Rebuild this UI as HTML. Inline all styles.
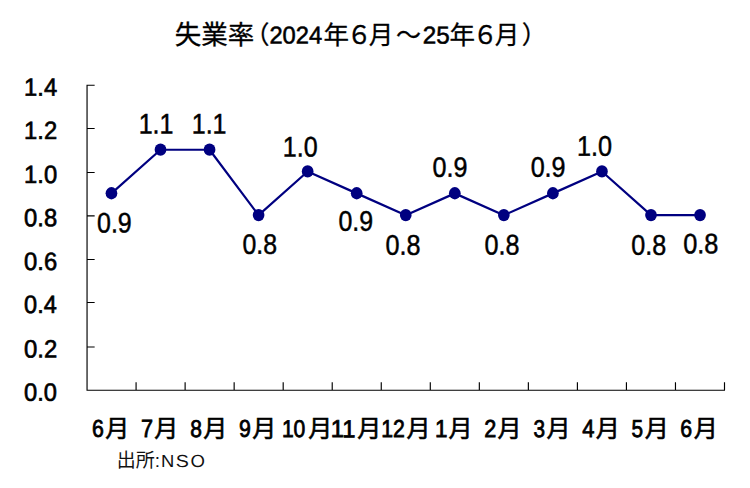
<!DOCTYPE html>
<html><head><meta charset="utf-8"><title>失業率</title>
<style>
html,body{margin:0;padding:0;background:#fff;}
svg{display:block;font-family:"Liberation Sans","Noto Sans CJK JP",sans-serif;}
</style></head>
<body>
<svg width="750" height="488" viewBox="0 0 750 488" role="img" aria-label="失業率（2024年６月～25年６月）">
<title>失業率（2024年６月～25年６月）</title>
<desc>失業率 折れ線グラフ: 6月 0.9, 7月 1.1, 8月 1.1, 9月 0.8, 10月 1.0, 11月 0.9, 12月 0.8, 1月 0.9, 2月 0.8, 3月 0.9, 4月 1.0, 5月 0.8, 6月 0.8。出所:NSO</desc>
<rect width="750" height="488" fill="#fff"/>
<path d="M87.05,84.7V390.2H725.0M87.05,347.00h7.6M87.05,302.50h7.6M87.05,259.50h7.6M87.05,215.90h7.6M87.05,172.50h7.6M87.05,128.50h7.6M87.05,85.20h7.6M136.08,390.2v-8M185.12,390.2v-8M234.15,390.2v-8M283.19,390.2v-8M332.22,390.2v-8M381.26,390.2v-8M430.29,390.2v-8M479.33,390.2v-8M528.36,390.2v-8M577.40,390.2v-8M626.43,390.2v-8M675.47,390.2v-8M724.50,390.2v-8" fill="none" stroke="#000" stroke-width="1.15"/>
<polyline points="111.45,193.37 160.50,149.73 209.55,149.73 258.60,215.19 307.65,171.55 356.70,193.37 405.75,215.19 454.80,193.37 503.85,215.19 552.90,193.37 601.95,171.55 651.00,215.19 700.05,215.19" fill="none" stroke="#000080" stroke-width="2.2" stroke-linejoin="round"/>
<ellipse cx="111.45" cy="193.27" rx="5.85" ry="6.15" fill="#000080"/>
<ellipse cx="160.50" cy="149.63" rx="5.85" ry="6.15" fill="#000080"/>
<ellipse cx="209.55" cy="149.63" rx="5.85" ry="6.15" fill="#000080"/>
<ellipse cx="258.60" cy="215.09" rx="5.85" ry="6.15" fill="#000080"/>
<ellipse cx="307.65" cy="171.45" rx="5.85" ry="6.15" fill="#000080"/>
<ellipse cx="356.70" cy="193.27" rx="5.85" ry="6.15" fill="#000080"/>
<ellipse cx="405.75" cy="215.09" rx="5.85" ry="6.15" fill="#000080"/>
<ellipse cx="454.80" cy="193.27" rx="5.85" ry="6.15" fill="#000080"/>
<ellipse cx="503.85" cy="215.09" rx="5.85" ry="6.15" fill="#000080"/>
<ellipse cx="552.90" cy="193.27" rx="5.85" ry="6.15" fill="#000080"/>
<ellipse cx="601.95" cy="171.45" rx="5.85" ry="6.15" fill="#000080"/>
<ellipse cx="651.00" cy="215.09" rx="5.85" ry="6.15" fill="#000080"/>
<ellipse cx="700.05" cy="215.09" rx="5.85" ry="6.15" fill="#000080"/>
<text transform="translate(24.10,400.63) rotate(0.03) scale(0.9440,1)" font-size="25.07" fill="#000" stroke="#000" stroke-width="0.67">0.0</text>
<text transform="translate(24.09,357.43) rotate(0.03) scale(0.9521,1)" font-size="25.07" fill="#000" stroke="#000" stroke-width="0.67">0.2</text>
<text transform="translate(24.11,312.93) rotate(0.03) scale(0.9370,1)" font-size="25.07" fill="#000" stroke="#000" stroke-width="0.67">0.4</text>
<text transform="translate(24.10,269.93) rotate(0.03) scale(0.9475,1)" font-size="25.07" fill="#000" stroke="#000" stroke-width="0.67">0.6</text>
<text transform="translate(24.10,226.33) rotate(0.03) scale(0.9472,1)" font-size="25.07" fill="#000" stroke="#000" stroke-width="0.67">0.8</text>
<text transform="translate(24.10,182.93) rotate(0.03) scale(0.9470,1)" font-size="25.07" fill="#000" stroke="#000" stroke-width="0.67">1.0</text>
<text transform="translate(24.10,138.98) rotate(0.03) scale(0.9470,1)" font-size="25.07" fill="#000" stroke="#000" stroke-width="0.67">1.2</text>
<text transform="translate(24.10,95.67) rotate(0.03) scale(0.9470,1)" font-size="25.07" fill="#000" stroke="#000" stroke-width="0.67">1.4</text>
<text transform="translate(97.05,232.60) rotate(0.03) scale(0.8773,1)" font-size="28.46" fill="#000" stroke="#000" stroke-width="0.48">0.9</text>
<text transform="translate(138.64,133.47) rotate(0.03) scale(0.8850,1)" font-size="28.30" fill="#000" stroke="#000" stroke-width="0.48">1.1</text>
<text transform="translate(191.72,133.47) rotate(0.03) scale(0.8850,1)" font-size="28.30" fill="#000" stroke="#000" stroke-width="0.48">1.1</text>
<text transform="translate(242.46,253.70) rotate(0.03) scale(0.8851,1)" font-size="28.04" fill="#000" stroke="#000" stroke-width="0.48">0.8</text>
<text transform="translate(282.84,156.60) rotate(0.03) scale(0.8850,1)" font-size="28.30" fill="#000" stroke="#000" stroke-width="0.48">1.0</text>
<text transform="translate(338.45,230.70) rotate(0.03) scale(0.8833,1)" font-size="28.18" fill="#000" stroke="#000" stroke-width="0.48">0.9</text>
<text transform="translate(385.44,254.70) rotate(0.03) scale(0.8854,1)" font-size="28.46" fill="#000" stroke="#000" stroke-width="0.48">0.8</text>
<text transform="translate(432.44,176.70) rotate(0.03) scale(0.8960,1)" font-size="28.04" fill="#000" stroke="#000" stroke-width="0.48">0.9</text>
<text transform="translate(484.44,254.60) rotate(0.03) scale(0.8898,1)" font-size="28.32" fill="#000" stroke="#000" stroke-width="0.48">0.8</text>
<text transform="translate(530.64,176.70) rotate(0.03) scale(0.8915,1)" font-size="28.18" fill="#000" stroke="#000" stroke-width="0.48">0.9</text>
<text transform="translate(577.04,155.69) rotate(0.03) scale(0.8850,1)" font-size="28.50" fill="#000" stroke="#000" stroke-width="0.48">1.0</text>
<text transform="translate(631.34,254.70) rotate(0.03) scale(0.8827,1)" font-size="28.46" fill="#000" stroke="#000" stroke-width="0.48">0.8</text>
<text transform="translate(683.23,253.20) rotate(0.03) scale(0.9042,1)" font-size="28.04" fill="#000" stroke="#000" stroke-width="0.47">0.8</text>
<text x="117.25" y="437.3" text-anchor="middle" font-size="24" fill="#000" stroke="#000" stroke-width="0.6">月</text>
<text transform="translate(91.89,436.69) rotate(0.03) scale(0.8813,1)" font-size="24.22" fill="#000" stroke="#000" stroke-width="0.80">6</text>
<text x="166.29" y="437.3" text-anchor="middle" font-size="24" fill="#000" stroke="#000" stroke-width="0.6">月</text>
<text transform="translate(140.90,436.93) rotate(0.03) scale(0.8692,1)" font-size="24.93" fill="#000" stroke="#000" stroke-width="0.80">7</text>
<text x="215.33" y="437.3" text-anchor="middle" font-size="24" fill="#000" stroke="#000" stroke-width="0.6">月</text>
<text transform="translate(190.14,436.69) rotate(0.03) scale(0.8666,1)" font-size="24.22" fill="#000" stroke="#000" stroke-width="0.81">8</text>
<text x="264.37" y="437.3" text-anchor="middle" font-size="24" fill="#000" stroke="#000" stroke-width="0.6">月</text>
<text transform="translate(239.10,436.69) rotate(0.03) scale(0.8803,1)" font-size="24.22" fill="#000" stroke="#000" stroke-width="0.80">9</text>
<text x="320.31" y="437.3" text-anchor="middle" font-size="24" fill="#000" stroke="#000" stroke-width="0.6">月</text>
<text transform="translate(281.90,436.69) rotate(0.03) scale(0.8700,1)" font-size="24.22" fill="#000" stroke="#000" stroke-width="0.81">10</text>
<text x="369.35" y="437.3" text-anchor="middle" font-size="24" fill="#000" stroke="#000" stroke-width="0.6">月</text>
<text transform="translate(330.80,437.12) rotate(0.03) scale(0.9700,1)" font-size="24.50" fill="#000" stroke="#000" stroke-width="0.78">11</text>
<text x="418.39" y="437.3" text-anchor="middle" font-size="24" fill="#000" stroke="#000" stroke-width="0.6">月</text>
<text transform="translate(381.14,436.93) rotate(0.03) scale(0.8650,1)" font-size="24.56" fill="#000" stroke="#000" stroke-width="0.78">12</text>
<text x="460.53" y="437.3" text-anchor="middle" font-size="24" fill="#000" stroke="#000" stroke-width="0.6">月</text>
<text transform="translate(435.06,436.93) rotate(0.03) scale(0.9100,1)" font-size="24.56" fill="#000" stroke="#000" stroke-width="0.80">1</text>
<text x="509.57" y="437.3" text-anchor="middle" font-size="24" fill="#000" stroke="#000" stroke-width="0.6">月</text>
<text transform="translate(484.21,436.93) rotate(0.03) scale(0.8803,1)" font-size="24.56" fill="#000" stroke="#000" stroke-width="0.80">2</text>
<text x="558.61" y="437.3" text-anchor="middle" font-size="24" fill="#000" stroke="#000" stroke-width="0.6">月</text>
<text transform="translate(533.54,436.69) rotate(0.03) scale(0.8577,1)" font-size="24.22" fill="#000" stroke="#000" stroke-width="0.81">3</text>
<text x="607.65" y="437.3" text-anchor="middle" font-size="24" fill="#000" stroke="#000" stroke-width="0.6">月</text>
<text transform="translate(582.27,436.93) rotate(0.03) scale(0.8797,1)" font-size="24.93" fill="#000" stroke="#000" stroke-width="0.80">4</text>
<text x="656.69" y="437.3" text-anchor="middle" font-size="24" fill="#000" stroke="#000" stroke-width="0.6">月</text>
<text transform="translate(631.58,436.68) rotate(0.03) scale(0.8452,1)" font-size="24.58" fill="#000" stroke="#000" stroke-width="0.82">5</text>
<text x="705.73" y="437.3" text-anchor="middle" font-size="24" fill="#000" stroke="#000" stroke-width="0.6">月</text>
<text transform="translate(680.37,436.69) rotate(0.03) scale(0.8813,1)" font-size="24.22" fill="#000" stroke="#000" stroke-width="0.80">6</text>
<text x="174.7" y="44.4" font-size="26.5" fill="#000" stroke="#000" stroke-width="0.3">失業率</text>
<text x="269.5" y="43.8" text-anchor="end" font-size="25" fill="#000" stroke="#000" stroke-width="0.3">（</text>
<text transform="translate(269.38,43.59) rotate(0.03) scale(0.9730,1)" font-size="24.36" fill="#000" stroke="#000" stroke-width="0.56">2024</text>
<text x="323.5" y="44.1" font-size="25.5" fill="#000" stroke="#000" stroke-width="0.3">年</text>
<text x="359.3" y="43.8" text-anchor="middle" font-size="25" fill="#000" stroke="#000" stroke-width="0.3">６</text>
<text x="381" y="43.8" text-anchor="middle" font-size="24.5" fill="#000" stroke="#000" stroke-width="0.3">月</text>
<text x="408.5" y="43.8" text-anchor="middle" font-size="25" fill="#000" stroke="#000" stroke-width="0.3">～</text>
<text transform="translate(422.75,43.59) rotate(0.03) scale(0.9959,1)" font-size="24.36" fill="#000" stroke="#000" stroke-width="0.55">25</text>
<text x="449.5" y="44.1" font-size="25.5" fill="#000" stroke="#000" stroke-width="0.3">年</text>
<text x="485.3" y="43.8" text-anchor="middle" font-size="25" fill="#000" stroke="#000" stroke-width="0.3">６</text>
<text x="507" y="43.8" text-anchor="middle" font-size="24.5" fill="#000" stroke="#000" stroke-width="0.3">月</text>
<text x="521.7" y="43.8" font-size="25" fill="#000" stroke="#000" stroke-width="0.3">）</text>
<text x="116.8" y="467.2" font-size="19" fill="#111">出所:</text>
<text transform="translate(160.89,467.00) rotate(0.03) scale(1.0572,1)" font-size="17.44" fill="#111">N</text>
<text transform="translate(175.81,467.03) rotate(0.03) scale(1.1208,1)" font-size="17.51" fill="#111">S</text>
<text transform="translate(190.42,467.03) rotate(0.03) scale(1.0623,1)" font-size="17.51" fill="#111">O</text>
</svg>
</body></html>
